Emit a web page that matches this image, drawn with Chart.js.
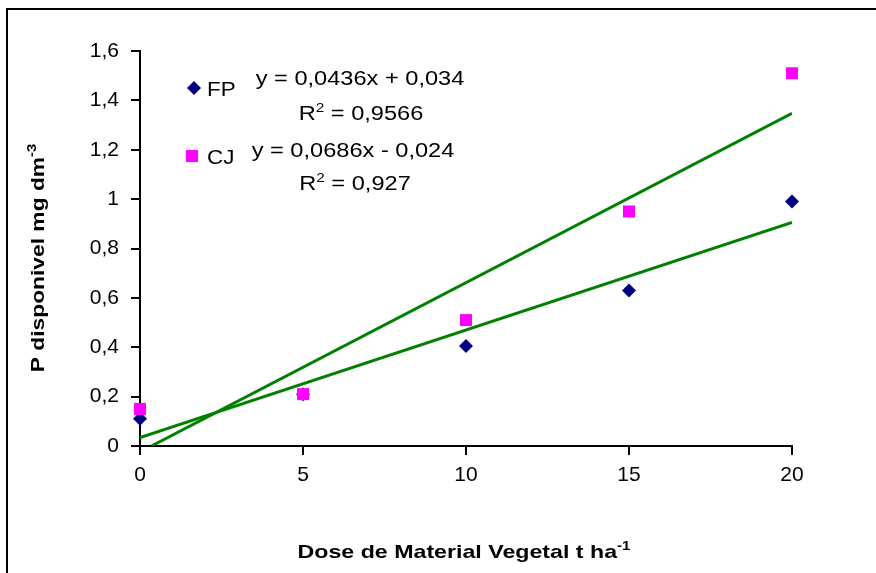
<!DOCTYPE html>
<html>
<head>
<meta charset="utf-8">
<script src="https://cdn.jsdelivr.net/npm/chart.js@4.4.1/dist/chart.umd.min.js"></script>
<style>
  html, body { margin: 0; padding: 0; background: #fff; }
  #wrap { width: 876px; height: 573px; }
</style>
</head>
<body>
<div id="wrap"><canvas id="PChart" width="876" height="573"></canvas></div>
<script>
// doses (t/ha)
const doses = [0, 5, 10, 15, 20];
const fpValues = [0.11, 0.21, 0.405, 0.63, 0.99];
const cjValues = [0.15, 0.21, 0.51, 0.95, 1.51];
const yTickLabels = ['0', '0,2', '0,4', '0,6', '0,8', '1', '1,2', '1,4', '1,6'];
const xTickLabels = ['0', '5', '10', '15', '20'];

// trend line coefficients as printed on the chart
const fpSlope = 0.0436, fpIntercept = 0.034;
const cjSlope = 0.0686, cjIntercept = -0.024;
const fpEq = ['y = 0,0436x + 0,034', '0,9566'];
const cjEq = ['y = 0,0686x - 0,024', '0,927'];

const FONT = "'Liberation Sans', Arial, sans-serif";
const NAVY = '#000080';
const MAGENTA = '#FF00FF';
const GREEN = '#008000';

function trend(slope, intercept) {
  let x0 = doses[0];
  if (slope * x0 + intercept < 0) x0 = -intercept / slope;  // clip at y = 0
  const x1 = doses[doses.length - 1];
  return [{x: x0, y: slope * x0 + intercept}, {x: x1, y: slope * x1 + intercept}];
}

const fpPts = doses.map((d, i) => ({x: d, y: fpValues[i]}));
const cjPts = doses.map((d, i) => ({x: d, y: cjValues[i]}));

// text with superscripts, parts = [[text, isSup], ...], sx = stretch along the text
function richText(ctx, parts, x, y, size, bold, align, sx) {
  const f = (s) => (bold ? 'bold ' : '') + s + 'px ' + FONT;
  let w = 0;
  parts.forEach(p => { ctx.font = f(p[1] ? size * 0.65 : size); w += ctx.measureText(p[0]).width; });
  ctx.save();
  ctx.translate(align === 'center' ? x - w * sx / 2 : x, y);
  ctx.scale(sx, 1);
  ctx.textAlign = 'left';
  ctx.textBaseline = 'alphabetic';
  let cx = 0;
  parts.forEach(p => {
    ctx.font = f(p[1] ? size * 0.65 : size);
    ctx.fillText(p[0], cx, p[1] ? -size * 0.42 : 0);
    cx += ctx.measureText(p[0]).width;
  });
  ctx.restore();
}

const decor = {
  id: 'decor',
  afterDraw(chart) {
    const ctx = chart.ctx;
    ctx.save();
    // outer frame
    ctx.strokeStyle = '#000';
    ctx.lineWidth = 2;
    ctx.strokeRect(7, 9, 900, 600);

    // legend markers
    ctx.fillStyle = NAVY;
    ctx.beginPath();
    ctx.moveTo(194, 81); ctx.lineTo(201, 88); ctx.lineTo(194, 95); ctx.lineTo(187, 88);
    ctx.closePath(); ctx.fill();
    ctx.fillStyle = MAGENTA;
    ctx.fillRect(186, 150, 12, 12);

    ctx.fillStyle = '#000';
    richText(ctx, [['FP', false]], 207, 96, 20, false, 'left', 1.12);
    richText(ctx, [['CJ', false]], 207, 164, 20, false, 'left', 1.12);

    // equations
    richText(ctx, [[fpEq[0], false]], 360, 85, 20, false, 'center', 1.18);
    richText(ctx, [['R', false], ['2', true], [' = ' + fpEq[1], false]], 361, 120, 20, false, 'center', 1.18);
    richText(ctx, [[cjEq[0], false]], 353, 157, 20, false, 'center', 1.18);
    richText(ctx, [['R', false], ['2', true], [' = ' + cjEq[1], false]], 355, 190, 20, false, 'center', 1.18);

    // axis titles
    richText(ctx, [['Dose de Material Vegetal t ha', false], ['-1', true]], 464, 558, 19, true, 'center', 1.22);
    ctx.translate(44, 258);
    ctx.rotate(-Math.PI / 2);
    richText(ctx, [['P disponivel mg dm', false], ['-3', true]], 0, 0, 19, true, 'center', 1.2);
    ctx.restore();
  }
};

new Chart(document.getElementById('PChart'), {
  type: 'scatter',
  data: {
    datasets: [
      { label: 'FP', data: fpPts, pointStyle: 'rectRot', radius: 7, backgroundColor: NAVY, borderColor: NAVY, borderWidth: 0, clip: false, order: 1 },
      { label: 'CJ', data: cjPts, pointStyle: 'rect', radius: 8.5, backgroundColor: MAGENTA, borderColor: MAGENTA, borderWidth: 0, clip: false, order: 0 },
      { type: 'line', label: 'FP trend', data: trend(fpSlope, fpIntercept), borderColor: GREEN, borderWidth: 3, pointRadius: 0, fill: false, order: 2 },
      { type: 'line', label: 'CJ trend', data: trend(cjSlope, cjIntercept), borderColor: GREEN, borderWidth: 3, pointRadius: 0, fill: false, order: 2 }
    ]
  },
  options: {
    responsive: false,
    animation: false,
    layout: { padding: { left: 0, top: 51, right: 84, bottom: 0 } },
    plugins: { legend: { display: false }, tooltip: { enabled: false } },
    scales: {
      x: {
        type: 'linear', min: 0, max: 20,
        afterFit(s) { s.height = 127; },
        afterBuildTicks(s) { s.ticks = doses.map(v => ({value: v})); },
        ticks: { callback: (v, i) => xTickLabels[i], color: '#000', font: { family: FONT, size: 21 }, padding: 8, maxRotation: 0 },
        grid: { drawOnChartArea: false, drawTicks: true, tickLength: 9, color: '#000', lineWidth: 2 },
        border: { display: true, color: '#000', width: 2 }
      },
      y: {
        min: 0, max: 1.6,
        afterFit(s) { s.width = 140; },
        afterBuildTicks(s) { s.ticks = yTickLabels.map((t, i) => ({value: i * 0.2})); },
        ticks: { callback: (v, i) => yTickLabels[i], color: '#000', font: { family: FONT, size: 21 }, padding: 12 },
        grid: { drawOnChartArea: false, drawTicks: true, tickLength: 9, color: '#000', lineWidth: 2 },
        border: { display: true, color: '#000', width: 2 }
      }
    }
  },
  plugins: [decor]
});
</script>
</body>
</html>
